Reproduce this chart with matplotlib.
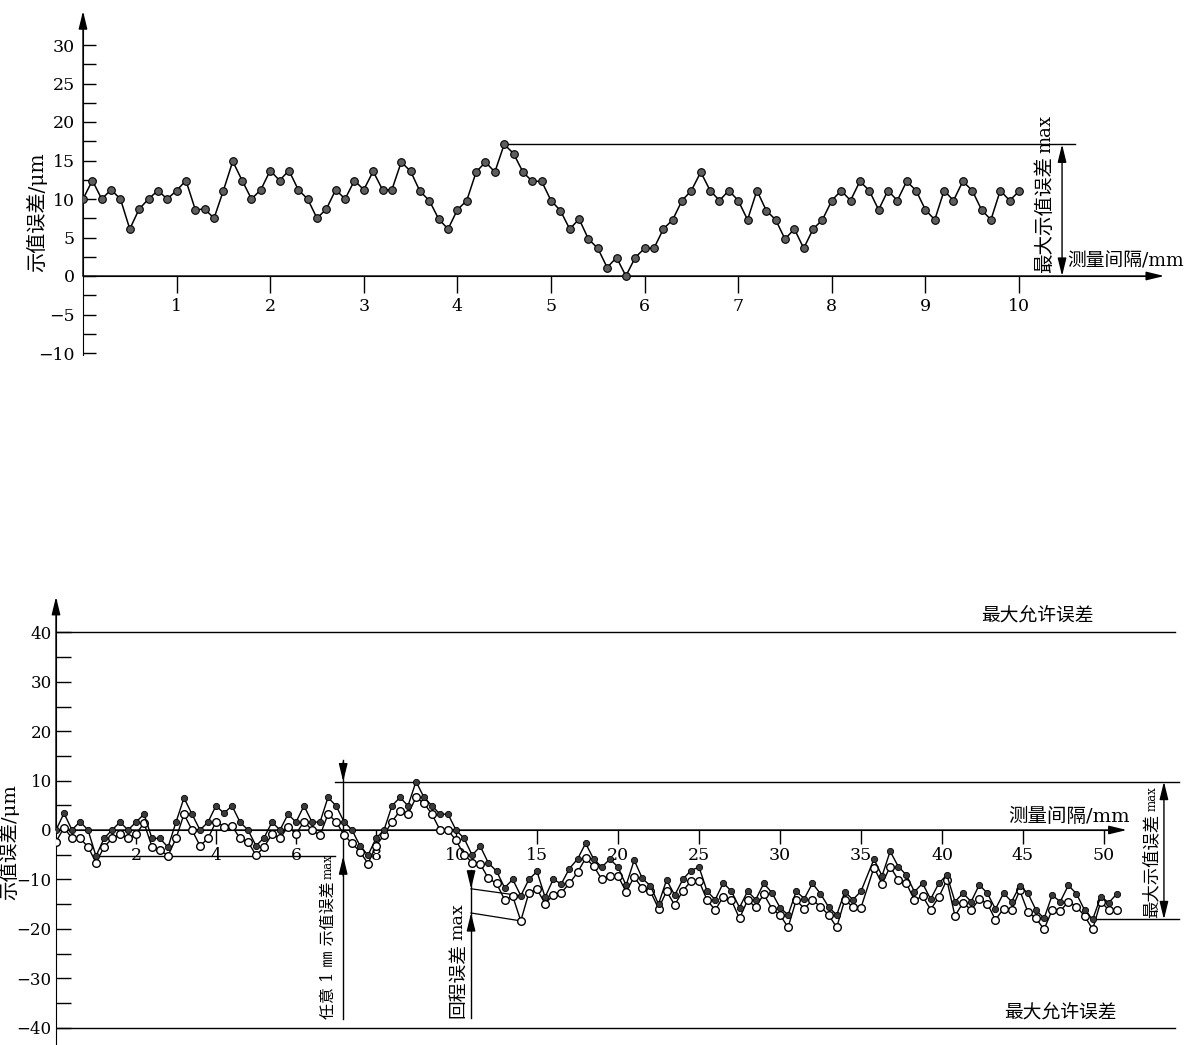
import numpy as np
import matplotlib
matplotlib.use("Agg")
import matplotlib.pyplot as plt

plt.rcParams['font.family'] = ['DejaVu Serif', 'Noto Sans CJK SC']

# ---------------- data ----------------
# upper chart: indication error read every 0.1 mm over 10 mm
top_x = np.round(np.arange(0, 10.05, 0.1), 1)
top_err = [10.0, 12.4, 10.0, 11.2, 10.0, 6.1, 8.7, 10.0, 11.1, 10.0,
           11.1, 12.4, 8.6, 8.7, 7.5, 11.1, 14.9, 12.4, 10.0, 11.2,
           13.7, 12.4, 13.7, 11.2, 10.0, 7.5, 8.7, 11.2, 10.0, 12.4,
           11.2, 13.6, 11.2, 11.2, 14.8, 13.6, 11.0, 9.8, 7.4, 6.1,
           8.6, 9.8, 13.5, 14.8, 13.5, 17.1, 15.9, 13.5, 12.3, 12.3,
           9.8, 8.5, 6.1, 7.4, 4.8, 3.6, 1.1, 2.4, 0.0, 2.4,
           3.6, 3.6, 6.1, 7.3, 9.8, 11.1, 13.5, 11.1, 9.8, 11.1,
           9.8, 7.3, 11.1, 8.5, 7.3, 4.8, 6.1, 3.6, 6.1, 7.3,
           9.8, 11.1, 9.8, 12.3, 11.1, 8.6, 11.1, 9.8, 12.3, 11.1,
           8.6, 7.3, 11.1, 9.8, 12.3, 11.1, 8.6, 7.3, 11.1, 9.8,
           11.0]
top_xticks = list(range(1, 11))

# lower chart: forward (filled) and return (open) stroke
bot_x = np.concatenate([np.arange(0, 10.01, 0.2),
                        np.arange(10.5, 35.01, 0.5),
                        np.arange(35.8, 50.81, 0.5)])
up_err = np.array([
    0, 3.4, 0, 1.7, 0, -5.3, -1.7, 0, 1.6, 0,
    1.6, 3.2, -1.7, -1.7, -3.5, 1.6, 6.5, 3.2, 0, 1.6,
    4.9, 3.4, 4.9, 1.6, 0, -3.2, -1.6, 1.6, 0, 3.2,
    1.6, 4.9, 1.6, 1.6, 6.6, 4.9, 1.7, 0, -3.2, -5.1,
    -1.7, 0, 4.9, 6.6, 4.9, 9.8, 6.6, 4.9, 3.2, 3.2,
    0,
    -1.7, -5.1, -3.3, -6.7, -8.3, -11.7, -10.0, -13.3, -10.0, -8.4,
    -13.6, -10.0, -10.9, -7.8, -5.9, -2.7, -5.9, -7.5, -5.9, -7.5,
    -11.2, -6.1, -9.8, -11.3, -15.0, -10.1, -13.2, -10.0, -8.2, -7.5,
    -12.4, -14.1, -10.7, -12.4, -15.7, -12.4, -14.1, -10.8, -12.7, -15.7,
    -17.2, -12.4, -13.9, -10.8, -12.9, -15.6, -17.2, -12.5, -14.1, -12.4,
    -5.9, -9.3, -4.3, -7.4, -9.1, -12.5, -10.8, -14.0, -10.8, -9.1,
    -14.5, -12.8, -14.5, -11.1, -12.8, -16.0, -12.8, -14.5, -11.3, -12.8,
    -16.2, -17.9, -13.2, -14.5, -11.2, -12.9, -16.2, -18.1, -13.5, -14.7,
    -12.9])
down_err = np.array([
    -2.4, 0.5, -1.7, -1.7, -3.4, -6.6, -3.5, -1.7, -0.8, -1.7,
    -0.8, 1.4, -3.4, -4.1, -5.2, -1.7, 3.2, 0, -3.2, -1.7,
    1.7, 0.7, 0.8, -1.7, -2.4, -5.1, -3.5, -0.8, -1.7, 0.7,
    -0.8, 1.7, 0, -1.1, 3.2, 1.7, -1.0, -2.7, -4.4, -6.8,
    -3.2, -1.0, 1.7, 3.9, 3.2, 6.6, 5.4, 3.2, 0, 0,
    -2.1,
    -5.0, -6.6, -6.9, -9.8, -10.8, -14.1, -13.4, -18.4, -12.7, -12.0,
    -14.9, -13.2, -12.7, -10.8, -8.6, -5.7, -7.3, -10.0, -9.3, -9.3,
    -12.5, -9.5, -11.8, -12.4, -15.9, -12.4, -15.2, -12.3, -10.4, -10.3,
    -14.2, -16.2, -13.5, -14.2, -17.9, -14.2, -15.6, -13.0, -15.9, -17.2,
    -19.7, -14.2, -15.9, -14.2, -15.5, -17.2, -19.7, -14.1, -15.6, -15.7,
    -7.6, -10.9, -7.4, -10.1, -10.8, -14.2, -13.4, -16.1, -13.6, -10.1,
    -17.4, -14.7, -16.2, -14.0, -14.9, -18.2, -15.9, -16.2, -12.2, -16.6,
    -17.9, -20.1, -16.2, -16.4, -14.5, -15.5, -17.4, -20.1, -14.5, -16.2,
    -16.2])
bot_xticks = [2, 4, 6, 8, 10, 15, 20, 25, 30, 35, 40, 45, 50]
mpe = 40  # 最大允许误差

W, H = 1188, 1045
fig = plt.figure(figsize=(W / 100, H / 100), dpi=100)

head = 'head_length=0.9,head_width=0.22'
arrow_kw = dict(arrowstyle='-|>,' + head, color='k', lw=1.0,
                shrinkA=0, shrinkB=0, mutation_scale=12)
dbl_kw = dict(arrowstyle='<|-|>,' + head, color='k', lw=1.0,
              shrinkA=0, shrinkB=0, mutation_scale=12)


def vlabel(ax, x, y, main, size, small_size, va='bottom'):
    # rotated label with a trailing "max" in its own size
    t = ax.text(x, y, main, rotation=90, ha='center', va=va, fontsize=size)
    ax.annotate('max', xy=(0.5, 1.0), xycoords=t, xytext=(0, 2),
                textcoords='offset points', rotation=90, ha='center',
                va='bottom', fontsize=small_size)
    return t


# ---------------- upper chart ----------------
ax1 = fig.add_axes([83 / W, 1 - 400 / H, (W - 83) / W, 400 / H])
ax1.set_xlim(0, (W - 83) / 93.6)
ax1.set_ylim(-124 / 7.7, 276 / 7.7)
ax1.patch.set_alpha(0)
for s in ['top', 'right']:
    ax1.spines[s].set_visible(False)
ax1.spines['bottom'].set_position(('data', 0))
ax1.spines['bottom'].set_bounds(0, 11.5)
ax1.spines['left'].set_bounds(-10.3, 34.0)
ax1.annotate('', xy=(0, 34.4), xytext=(0, 0), arrowprops=arrow_kw)
ax1.annotate('', xy=(11.55, 0), xytext=(0, 0), arrowprops=arrow_kw)

ax1.set_xticks(top_xticks)
ax1.set_yticks(np.arange(-10, 31, 5))
ax1.set_yticks(np.arange(-7.5, 30, 5), minor=True)
ax1.tick_params(axis='y', which='both', direction='in', length=9, width=1,
                pad=6, labelsize=12.5)
ax1.tick_params(axis='x', direction='out', length=12, width=1, pad=4,
                labelsize=12.5)

ax1.plot(top_x, top_err, '-o', color='k', lw=1.1, ms=5.5,
         mfc='#5e5e5e', mec='k', mew=0.8, zorder=3)

i_max = int(np.argmax(top_err))
vmax = top_err[i_max]
ax1.plot([top_x[i_max], 10.6], [vmax, vmax], color='k', lw=1.0)
ax1.annotate('', xy=(10.46, vmax), xytext=(10.46, 0), arrowprops=dbl_kw)
vlabel(ax1, 10.28, 0.4, '最大示值误差', 14, 13)
ax1.text(10.52, 1.9, '测量间隔/mm', ha='left', va='center', fontsize=13.5)
ax1.text(-0.49, 8.3, '示值误差/μm', rotation=90, ha='center', va='center',
         fontsize=14.5)

# ---------------- lower chart ----------------
K = 16.2 / 40.0


def fwd(x):
    x = np.asarray(x, dtype=float)
    return np.where(x <= 10, x, 10 + (x - 10) * K)


def inv(t):
    t = np.asarray(t, dtype=float)
    return np.where(t <= 10, t, 10 + (t - 10) / K)


ax2 = fig.add_axes([56 / W, 0, (W - 56) / W, 470 / H])
ax2.set_xscale('function', functions=(fwd, inv))
ax2.set_xlim(0, float(inv((W - 56) / 40)))
ax2.set_ylim(-215 / 4.94, 255 / 4.94)
ax2.patch.set_alpha(0)
for s in ['top', 'right']:
    ax2.spines[s].set_visible(False)
ax2.spines['bottom'].set_position(('data', 0))
ax2.spines['bottom'].set_bounds(0, 51.0)
ax2.spines['left'].set_bounds(-43.5, 46.5)
ax2.annotate('', xy=(0, 47.2), xytext=(0, 0), arrowprops=arrow_kw)
ax2.annotate('', xy=(51.4, 0), xytext=(0, 0), arrowprops=arrow_kw)

ax2.set_xticks(bot_xticks)
ax2.set_xticklabels([str(v) for v in bot_xticks])
ax2.xaxis.set_minor_locator(matplotlib.ticker.NullLocator())
ax2.set_yticks(np.arange(-40, 41, 10))
ax2.set_yticks(np.arange(-35, 40, 10), minor=True)
ax2.tick_params(axis='y', which='both', direction='in', length=11, width=1,
                pad=3, labelsize=12)
ax2.tick_params(axis='x', direction='out', length=10, width=1, pad=2,
                labelsize=12.5)

ax2.plot(bot_x, down_err, '-o', color='k', lw=1.0, ms=5.5, mfc='white',
         mec='k', mew=1.0, zorder=3)
ax2.plot(bot_x, up_err, '-o', color='k', lw=1.0, ms=4.5, mfc='#3a3a3a',
         mec='k', mew=0.6, zorder=4)

# maximum permissible error
for lvl, (tx, ty) in zip([mpe, -mpe], [(45.9, 43.4), (47.3, -37.0)]):
    ax2.axhline(lvl, xmin=0, xmax=(1175 - 56) / (W - 56), color='k', lw=1.0)
    ax2.text(tx, ty, '最大允许误差', ha='center', va='center', fontsize=13.5)

# overall max / min indication error
i_hi = int(np.argmax(up_err))
i_lo = int(np.argmin(up_err))
hi, lo = up_err[i_hi], up_err[i_lo]
ax2.plot([6.98, 54.6], [hi, hi], color='k', lw=1.0)
ax2.plot([bot_x[i_lo], 54.6], [lo, lo], color='k', lw=1.0)
ax2.annotate('', xy=(53.7, hi), xytext=(53.7, lo), arrowprops=dbl_kw)
vlabel(ax2, 52.95, lo + 0.3, '最大示值误差', 12.5, 8.5)
ax2.text(51.6, 2.7, '测量间隔/mm', ha='right', va='center', fontsize=14)

# error over any 1 mm
i_lo1 = int(np.argmin(up_err[:51]))
lo1 = up_err[i_lo1]
ax2.plot([6.98, bot_x[i_lo1]], [lo1, lo1], color='k', lw=1.0)
ax2.plot([7.18, 7.18], [14.2, -38.3], color='k', lw=1.0)
ax2.annotate('', xy=(7.18, hi), xytext=(7.18, hi + 4), arrowprops=arrow_kw)
ax2.annotate('', xy=(7.18, lo1), xytext=(7.18, lo1 - 4), arrowprops=arrow_kw)
vlabel(ax2, 6.8, -38.3, '任意 1 ㎜ 示值误差', 11.5, 8.5)

# hysteresis (return error)
i_h = int(np.argmax(up_err - down_err))
xr = 10.93
ax2.plot([xr, xr], [-8.1, -38.1], color='k', lw=1.0)
ax2.plot([xr, bot_x[i_h]], [up_err[i_h] + 1.4, up_err[i_h]], color='k', lw=0.9)
ax2.plot([xr, bot_x[i_h]], [down_err[i_h] + 1.6, down_err[i_h]], color='k', lw=0.9)
ax2.annotate('', xy=(xr, up_err[i_h] + 1.4), xytext=(xr, up_err[i_h] + 4.5),
             arrowprops=arrow_kw)
ax2.annotate('', xy=(xr, down_err[i_h] + 1.6), xytext=(xr, down_err[i_h] - 2),
             arrowprops=arrow_kw)
vlabel(ax2, 10.12, -38.1, '回程误差', 13.5, 12.5)

ax2.text(-1.17, -2.4, '示值误差/μm', rotation=90, ha='center', va='center',
         fontsize=14)

fig.savefig('out.png', dpi=100)
